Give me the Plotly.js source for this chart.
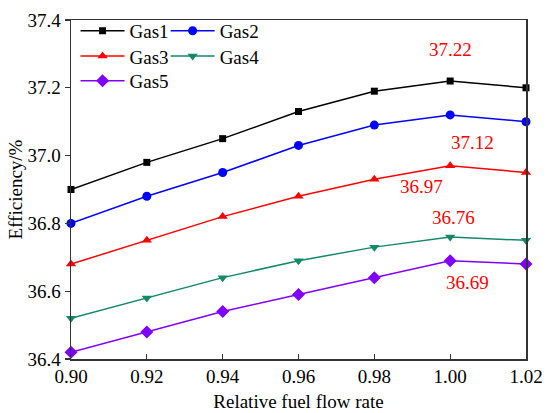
<!DOCTYPE html>
<html>
<head>
<meta charset="utf-8">
<script src="https://cdn.plot.ly/plotly-3.0.1.min.js"></script>
<style>html,body{margin:0;padding:0;background:#fff;}#chart{width:550px;height:413px;}</style>
</head>
<body>
<div id="chart"></div>
<script>
var flowRate = [0.90, 0.92, 0.94, 0.96, 0.98, 1.00, 1.02];
var gas1 = [36.90, 36.98, 37.05, 37.13, 37.19, 37.22, 37.20];
var gas2 = [36.80, 36.88, 36.95, 37.03, 37.09, 37.12, 37.10];
var gas3 = [36.68, 36.75, 36.82, 36.88, 36.93, 36.97, 36.95];
var gas4 = [36.52, 36.58, 36.64, 36.69, 36.73, 36.76, 36.75];
var gas5 = [36.42, 36.48, 36.54, 36.59, 36.64, 36.69, 36.68];
var seriesNames = ['Gas1', 'Gas2', 'Gas3', 'Gas4', 'Gas5'];
var peakLabels = ['37.22', '37.12', '36.97', '36.76', '36.69'];
var peakLabelX = [1.000, 1.006, 0.9925, 1.001, 1.0045];
var peakLabelY = [37.313, 37.04, 36.909, 36.816, 36.627];

var FONT = 'Liberation Serif';
var colors = ['#000000', '#0000ff', '#ff0000', '#138a66', '#8000ff'];
var symbols = ['square', 'circle', 'triangle-up', 'triangle-down', 'diamond'];
var msizes = [7, 9, 9, 9, 10];
var legendIds = ['legend', 'legend2', 'legend3', 'legend4', 'legend5'];
var legendX = [0.01, 0.208, 0.01, 0.208, 0.01];
var legendY = [0.968, 0.968, 0.893, 0.893, 0.82];
var allY = [gas1, gas2, gas3, gas4, gas5];

var traces = allY.map(function (ys, i) {
  return {
    x: flowRate, y: ys, name: seriesNames[i], type: 'scatter', mode: 'lines+markers',
    line: {color: colors[i], width: 1.5},
    marker: {color: colors[i], symbol: symbols[i], size: msizes[i]},
    legend: legendIds[i], cliponaxis: false
  };
});

var annotations = peakLabels.map(function (t, i) {
  return {x: peakLabelX[i], y: peakLabelY[i], xref: 'x', yref: 'y', text: t,
    showarrow: false, font: {family: FONT, size: 19, color: '#ff0000'}};
});

var layout = {
  width: 550, height: 413,
  margin: {l: 71, r: 24, t: 15, b: 54},
  paper_bgcolor: '#fff', plot_bgcolor: '#fff',
  font: {family: FONT, size: 19, color: '#000'},
  showlegend: true,
  xaxis: {
    range: [0.90, 1.02], dtick: 0.02, tick0: 0.90, tickformat: '.2f',
    ticks: 'inside', ticklen: 5, tickwidth: 1.2, tickcolor: '#333',
    showline: true, linecolor: '#333', linewidth: 1.5, mirror: true,
    showgrid: false, zeroline: false,
    tickfont: {family: FONT, size: 19, color: '#000'},
    title: {text: 'Relative fuel flow rate', font: {family: FONT, size: 19, color: '#000'}, standoff: 8}
  },
  yaxis: {
    range: [36.4, 37.4], dtick: 0.2, tick0: 36.4, tickformat: '.1f',
    ticks: 'outside', ticklen: 5, tickwidth: 1.2, tickcolor: '#333',
    showline: true, linecolor: '#333', linewidth: 1.5, mirror: true,
    showgrid: false, zeroline: false,
    tickfont: {family: FONT, size: 19, color: '#000'},
    title: {text: 'Efficiency/%', font: {family: FONT, size: 19, color: '#000'}, standoff: 0}
  },
  annotations: annotations
};

legendIds.forEach(function (id, i) {
  layout[id] = {
    orientation: 'h', x: legendX[i], y: legendY[i], xanchor: 'left', yanchor: 'middle',
    itemwidth: 44, font: {family: FONT, size: 19, color: '#000'},
    bgcolor: 'rgba(0,0,0,0)', borderwidth: 0
  };
});

Plotly.newPlot('chart', traces, layout, {displayModeBar: false, staticPlot: true});
</script>
</body>
</html>
